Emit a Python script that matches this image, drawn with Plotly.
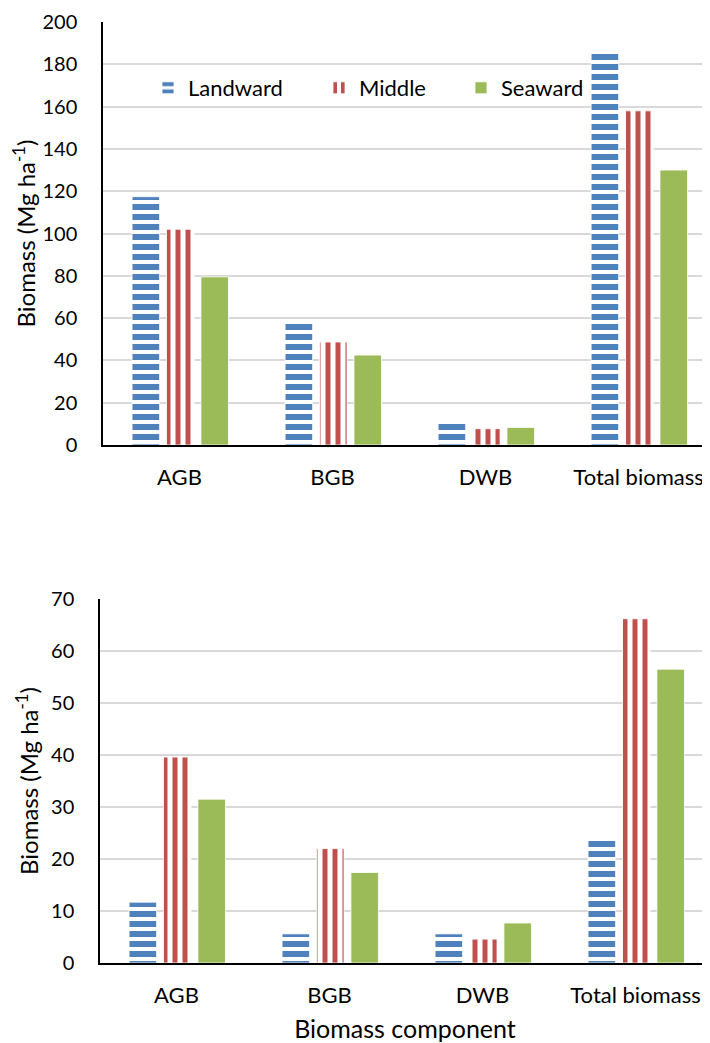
import plotly.graph_objects as go

categories = ["AGB", "BGB", "DWB", "Total biomass"]
series_names = ["Landward", "Middle", "Seaward"]

# Top panel values (Mg ha-1)
top_landward = [117.4, 58.6, 10.4, 186.0]
top_middle = [102.0, 48.7, 7.7, 158.0]
top_seaward = [79.5, 42.5, 8.3, 130.0]

# Bottom panel values (Mg ha-1)
bot_landward = [11.7, 5.6, 5.6, 23.9]
bot_middle = [39.6, 22.0, 4.6, 66.2]
bot_seaward = [31.5, 17.4, 7.7, 56.5]

top_ticks = [0, 20, 40, 60, 80, 100, 120, 140, 160, 180, 200]
bot_ticks = [0, 10, 20, 30, 40, 50, 60, 70]

BLUE = "#4F81BD"
RED = "#C0504D"
GREEN = "#9BBB59"
FONT = "Lato"

# page body has an 8px margin; lay out in screen pixels and convert
OFF = 8
W, H = 710 - OFF, 1043 - OFF


def px_x(sx):
    return (sx - OFF) / W


def px_y(sy):
    return 1 - (sy - OFF) / H


styles = {
    "Landward": dict(offset=-0.31, pattern=dict(shape="-", fgcolor=BLUE, bgcolor="white", size=10, solidity=0.6)),
    "Middle": dict(offset=-0.085, pattern=dict(shape="|", fgcolor=RED, bgcolor="white", size=10, solidity=0.5)),
    "Seaward": dict(offset=0.14, pattern=None),
}

fig = go.Figure()

legend_names = {"Landward": "legend", "Middle": "legend2", "Seaward": "legend3"}


def add_panel(vals_list, xa, ya, show):
    for name, vals in zip(series_names, vals_list):
        st = styles[name]
        marker = dict(line=dict(width=0.8, color="white"))
        if st["pattern"] is None:
            marker["color"] = GREEN
        else:
            marker["color"] = st["pattern"]["fgcolor"]
            marker["pattern"] = dict(st["pattern"], fillmode="replace")
        fig.add_trace(go.Bar(
            x=categories, y=vals, name=name, xaxis=xa, yaxis=ya,
            width=0.18, offset=st["offset"], marker=marker,
            showlegend=show, legend=legend_names[name],
        ))


add_panel([top_landward, top_middle, top_seaward], "x", "y", True)
add_panel([bot_landward, bot_middle, bot_seaward], "x2", "y2", False)

ytick_font = dict(family=FONT, size=20, color="black")
xtick_font = dict(family=FONT, size=22, color="black")

common_x = dict(
    type="category", showline=True, linecolor="black", linewidth=1.5,
    showgrid=False, ticks="", tickfont=xtick_font, automargin=False,
    ticklabelstandoff=12,
)
common_y = dict(
    showline=True, linecolor="black", linewidth=1.5,
    showgrid=True, gridcolor="#D9D9D9", gridwidth=1.5, zeroline=False,
    ticks="", tickfont=ytick_font, automargin=False, ticklabelstandoff=20,
)

ytitle = "Biomass (Mg ha<sup>-1</sup>)"

fig.update_layout(
    template=None,
    width=W, height=H,
    margin=dict(l=0, r=0, t=0, b=0),
    paper_bgcolor="white", plot_bgcolor="white",
    barmode="overlay",
    font=dict(family=FONT, color="black"),
    xaxis=dict(common_x, domain=[px_x(103), 1], range=[-0.5, 3.467], anchor="y"),
    yaxis=dict(common_y, domain=[px_y(445), px_y(22)], range=[0, 200],
               tickvals=top_ticks, anchor="x",
               title=dict(text=ytitle, font=dict(family=FONT, size=24), standoff=6)),
    xaxis2=dict(common_x, domain=[px_x(100), 1], range=[-0.5, 3.487], anchor="y2",
                title=dict(text="Biomass component", font=dict(family=FONT, size=25), standoff=13)),
    yaxis2=dict(common_y, domain=[px_y(963), px_y(599)], range=[0, 70],
                tickvals=bot_ticks, anchor="x2",
                title=dict(text=ytitle, font=dict(family=FONT, size=24), standoff=6)),
    showlegend=True,
)

leg_common = dict(orientation="h", yanchor="middle", xanchor="left", bgcolor="rgba(0,0,0,0)",
                  font=dict(family=FONT, size=22, color="black"), borderwidth=0)
fig.update_layout(
    legend=dict(leg_common, x=px_x(148), y=px_y(88)),
    legend2=dict(leg_common, x=px_x(319), y=px_y(88)),
    legend3=dict(leg_common, x=px_x(461), y=px_y(88)),
)

fig.write_html("out.html")
